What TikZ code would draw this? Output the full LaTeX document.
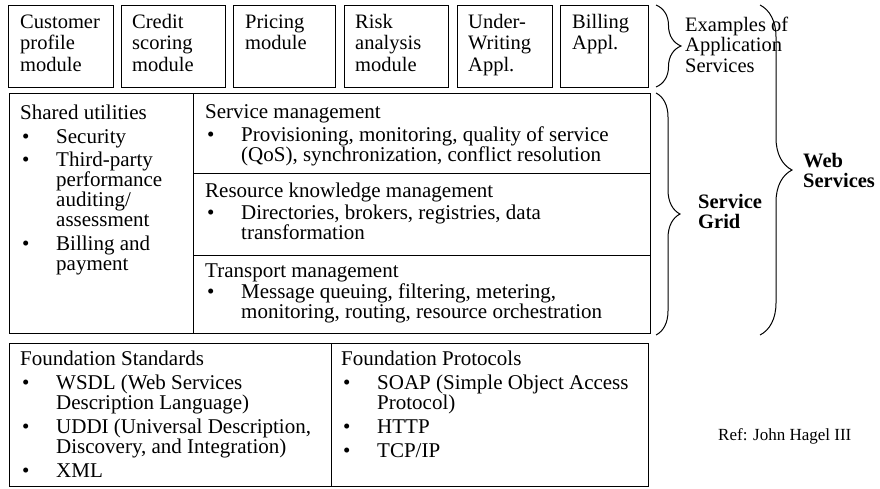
\documentclass[tikz,border=0pt]{standalone}
\usepackage{fontspec}
\setmainfont{Liberation Serif}
\usetikzlibrary{decorations.pathreplacing}
\newcommand{\bu}{\makebox[36pt][l]{\hspace{2pt}\textbullet}}
\newcommand{\ind}{\hspace*{36pt}}
\begin{document}
\begin{tikzpicture}[x=1pt,y=-1pt,
  box/.style={draw=black, line width=1pt},
  txt/.style={anchor=base west, inner sep=0pt, align=left, font=\fontsize{21}{20}\selectfont},
  toptxt/.style={txt, font=\fontsize{20.5}{21.5}\selectfont},
  lbl/.style={txt, font=\fontsize{20.5}{20.5}\selectfont},
  blbl/.style={txt, font=\fontsize{20.5}{20.5}\selectfont\bfseries},
  brc/.style={decorate, decoration={brace, amplitude=#1}, line width=1pt},
]
\useasboundingbox (0,0) rectangle (880,488);
% top application boxes (text anchored at the baseline of the last line)
\draw[box] (8,5) rectangle (113,87);
\draw[box] (121,5) rectangle (225,87);
\draw[box] (233,5) rectangle (335,87);
\draw[box] (344,5) rectangle (448,87);
\draw[box] (457,5) rectangle (552,87);
\draw[box] (560,5) rectangle (648,87);
\node[toptxt] (cust) at (20,71) {Customer\\profile\\module};
\node[toptxt] (cred) at (132,71) {Credit\\scoring\\module};
\node[toptxt] (pric) at (245,49.5) {Pricing\\module};
\node[toptxt] (risk) at (355,71) {Risk\\analysis\\module};
\node[toptxt] (uw) at (468,71) {Under-\\Writing\\Appl.};
\node[toptxt] (bill) at (572,49.5) {Billing\\Appl.};
% middle: service grid
\draw[box] (9,93) rectangle (650,333);
\draw[box] (193,93) -- (193,333);
\draw[box] (193,173) -- (650,173);
\draw[box] (193,255) -- (650,255);
\node[txt] (shared) at (20,270) {Shared utilities\\[4pt]\bu Security\\[3.5pt]\bu Third-party\\\ind performance\\\ind auditing/\\\ind assessment\\[3.5pt]\bu Billing and\\\ind payment};
\node[txt] (svc) at (205,161) {Service management\\[3pt]\bu Provisioning, monitoring, quality of service\\\ind (QoS), synchronization, conflict resolution};
\node[txt] (res) at (205,239) {Resource knowledge management\\[2pt]\bu Directories, brokers, registries, data\\\ind transformation};
\node[txt] (trn) at (205,318) {Transport management\\[1pt]\bu Message queuing, filtering, metering,\\\ind monitoring, routing, resource orchestration};
% bottom: foundations
\draw[box] (9,343) rectangle (648,486.5);
\draw[box] (331,343) -- (331,486.5);
\node[txt] (std) at (20,477) {Foundation Standards\\[4pt]\bu WSDL (Web Services\\\ind Description Language)\\[4pt]\bu UDDI (Universal Description,\\\ind Discovery, and Integration)\\[4pt]\bu XML};
\node[txt] (prot) at (341,457) {Foundation Protocols\\[4pt]\bu SOAP (Simple Object Access\\\ind Protocol)\\[4pt]\bu HTTP\\[4pt]\bu TCP/IP};
% braces
\coordinate (b1t) at (656,5);
\coordinate (b1b) at (656,87);
\coordinate (b2t) at (656,93);
\coordinate (b2b) at (656,335);
\coordinate (b3t) at (760,5);
\coordinate (b3b) at (760,335);
\draw[brc=25] (b1t) -- (b1b);
\draw[brc=24] (b2t) -- (b2b);
\draw[brc=32] (b3t) -- (b3b);
\node[lbl] (appsvc) at (685,72) {Examples of\\Application\\Services};
\node[blbl] (grid) at (698,228.5) {Service\\Grid};
\node[blbl] (websvc) at (803,187.5) {Web\\Services};
\node[txt, font=\fontsize{17}{17}\selectfont] (ref) at (718,440) {Ref: John Hagel III};
\end{tikzpicture}
\end{document}
